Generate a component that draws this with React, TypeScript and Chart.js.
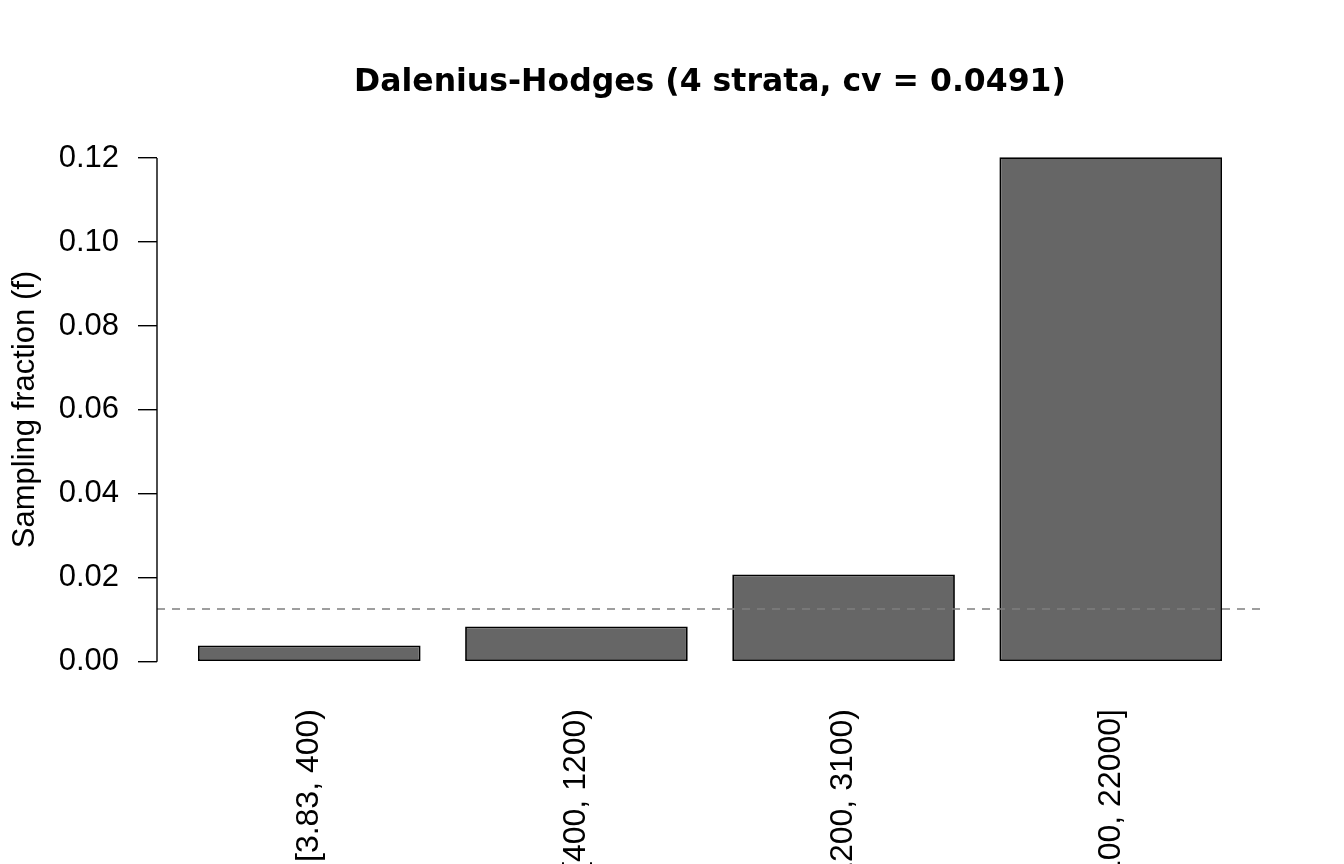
import { useEffect, useRef } from "react"
import { Chart, registerables } from "chart.js"

Chart.register(...registerables)

const strata = ["[3.83, 400)", "[400, 1200)", "[1200, 3100)", "[3100, 22000]"]
const samplingFraction = [0.0039, 0.0084, 0.0208, 0.1202]
const overallFraction = 0.0126
const yTicks = [0, 0.02, 0.04, 0.06, 0.08, 0.1, 0.12]

const FONT = "'Liberation Sans', Arial, sans-serif"
const TITLE_FONT = "'DejaVu Sans', sans-serif"

// barplot geometry, like R: width 1, space 0.2, axis range padded by 4%
const barWidth = 1
const barSpace = 0.2
const barCenters = strata.map((_, i) => barSpace + barWidth / 2 + i * (barWidth + barSpace))
const xLo = barSpace
const xHi = strata.length * (barWidth + barSpace)
const xPad = (xHi - xLo) * 0.04
const yHi = Math.max(...samplingFraction)
const yPad = yHi * 0.04

export default function App() {
  const chartRef = useRef<HTMLCanvasElement>(null)

  useEffect(() => {
    if (!chartRef.current) return

    const axisAndLine = {
      id: "axisAndLine",
      afterDatasetsDraw(chart: any) {
        const { ctx, chartArea, scales } = chart
        const y = scales.y
        // reference line across the whole plot region
        const ly = y.getPixelForValue(overallFraction)
        ctx.save()
        ctx.strokeStyle = "#7f7f7f"
        ctx.lineWidth = 1.5
        ctx.setLineDash([8, 7])
        ctx.beginPath()
        ctx.moveTo(chartArea.left, ly)
        ctx.lineTo(chartArea.right, ly)
        ctx.stroke()
        ctx.restore()

        // y axis line, only between first and last tick
        ctx.save()
        ctx.strokeStyle = "#000"
        ctx.lineWidth = 1.4
        ctx.beginPath()
        ctx.moveTo(chartArea.left, y.getPixelForValue(yTicks[0]))
        ctx.lineTo(chartArea.left, y.getPixelForValue(yTicks[yTicks.length - 1]))
        ctx.stroke()
        ctx.restore()
      },
    }

    const chart = new Chart(chartRef.current, {
      type: "bar",
      data: {
        datasets: [
          {
            data: barCenters.map((x, i) => ({ x, y: samplingFraction[i] })),
            backgroundColor: "#666666",
            borderColor: "#000000",
            borderWidth: 1.8,
            borderSkipped: false,
            categoryPercentage: 1,
            barPercentage: barWidth / (barWidth + barSpace),
          },
        ],
      },
      options: {
        animation: false,
        responsive: false,
        events: [],
        layout: { padding: { left: 0, right: 81, top: 0, bottom: 0 } },
        scales: {
          x: {
            type: "linear",
            offset: false,
            min: xLo - xPad,
            max: xHi + xPad,
            grid: { display: false, offset: false },
            border: { display: false },
            afterBuildTicks: (axis: any) => {
              axis.ticks = barCenters.map((v) => ({ value: v }))
            },
            afterFit: (axis: any) => {
              axis.height = 182
            },
            ticks: {
              autoSkip: false,
              minRotation: 90,
              maxRotation: 90,
              padding: 19,
              color: "#000",
              font: { family: FONT, size: 32 },
              callback: (_v: any, i: number) => strata[i],
            },
          },
          y: {
            type: "linear",
            min: -yPad,
            max: yHi + yPad,
            afterBuildTicks: (axis: any) => {
              axis.ticks = yTicks.map((v) => ({ value: v }))
            },
            afterFit: (axis: any) => {
              axis.width = 157
            },
            grid: {
              drawOnChartArea: false,
              drawTicks: true,
              tickLength: 19,
              color: "#000",
              lineWidth: 1.4,
            },
            border: { display: false },
            ticks: {
              padding: 19,
              color: "#000",
              font: { family: FONT, size: 31 },
              callback: (v: any) => Number(v).toFixed(2),
            },
            title: {
              display: true,
              text: "Sampling fraction (f)",
              color: "#000",
              font: { family: FONT, size: 31 },
              padding: { top: 6.8, bottom: 0 },
            },
          },
        },
        plugins: {
          legend: { display: false },
          tooltip: { enabled: false },
          title: {
            display: true,
            text: "Dalenius-Hodges (4 strata, cv = 0.0491)",
            color: "#000",
            fullSize: false,
            font: { family: TITLE_FONT, size: 31.5, weight: "bold" },
            padding: { top: 63.5, bottom: 35.7 },
          },
        },
      },
      plugins: [axisAndLine],
    } as any)

    return () => {
      chart.destroy()
    }
  }, [])

  return (
    <div style={{ position: "fixed", left: 0, top: 0, width: 1344, height: 864, background: "#fff" }}>
      <canvas ref={chartRef} width={1344} height={864} style={{ display: "block" }}></canvas>
    </div>
  )
}
